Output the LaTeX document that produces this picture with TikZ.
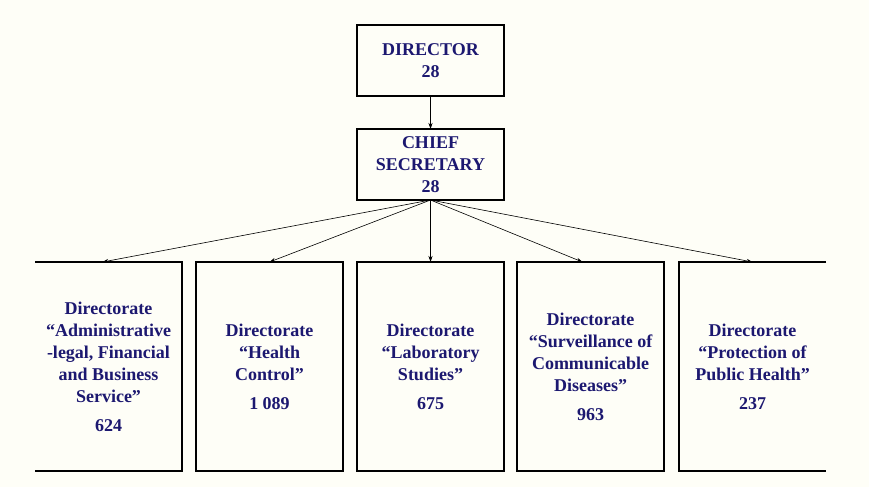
\documentclass[tikz,border=0pt]{standalone}
\usepackage{fontspec}
\setmainfont{Liberation Serif}
\usetikzlibrary{positioning,arrows.meta}
\definecolor{inkblue}{RGB}{28,24,112}
\definecolor{paper}{RGB}{254,254,247}
\tikzset{
  topbox/.style={draw, line width=1.6pt, minimum width=147pt, minimum height=71pt,
    inner sep=0pt, outer sep=0pt, align=center, text=inkblue,
    font=\bfseries\fontsize{18}{22}\selectfont},
  dirbox/.style={topbox, minimum width=147pt, minimum height=209pt},
  link/.style={line width=0.6pt, -{Stealth[length=6pt,width=4pt]}},
}
\begin{document}
\begin{tikzpicture}[x=1pt, y=-1pt]
  \fill[paper] (0,0) rectangle (869,487);
  \useasboundingbox (0,0) rectangle (869,487);
  \node [topbox] (dir) at (430.5,60.5) {DIRECTOR\\28};
  \node [topbox, below=33pt of dir] (sec) {CHIEF\\SECRETARY\\28};
  \node [dirbox, below=62pt of sec] (d3) {Directorate\\“Laboratory\\Studies”\\[7pt]675};
  \node [dirbox, left=14pt of d3] (d2) {Directorate\\“Health\\Control”\\[7pt]1 089};
  \node [dirbox, draw=none, left=14pt of d2] (d1)
    {Directorate\\“Administrative\\-legal, Financial\\and Business\\Service”\\[7pt]624};
  \node [dirbox, right=13pt of d3] (d4)
    {Directorate\\“Surveillance of\\Communicable\\Diseases”\\[7pt]963};
  \node [dirbox, draw=none, right=15pt of d4] (d5)
    {Directorate\\“Protection of\\Public Health”\\[7pt]237};
  % open outer boxes
  \draw [line width=1.6pt] (d1.north west) -- (d1.north east) -- (d1.south east) -- (d1.south west);
  \draw [line width=1.6pt] (d5.north east) -- (d5.north west) -- (d5.south west) -- (d5.south east);
  \draw [link] (dir) -- (sec);
  \draw [link] (sec.south) -- ([xshift=-6pt]d1.north);
  \draw [link] (sec.south) -- (d2.north);
  \draw [link] (sec.south) -- (d3.north);
  \draw [link] (sec.south) -- ([xshift=-8pt]d4.north);
  \draw [link] (sec.south) -- (d5.north);
\end{tikzpicture}
\end{document}
